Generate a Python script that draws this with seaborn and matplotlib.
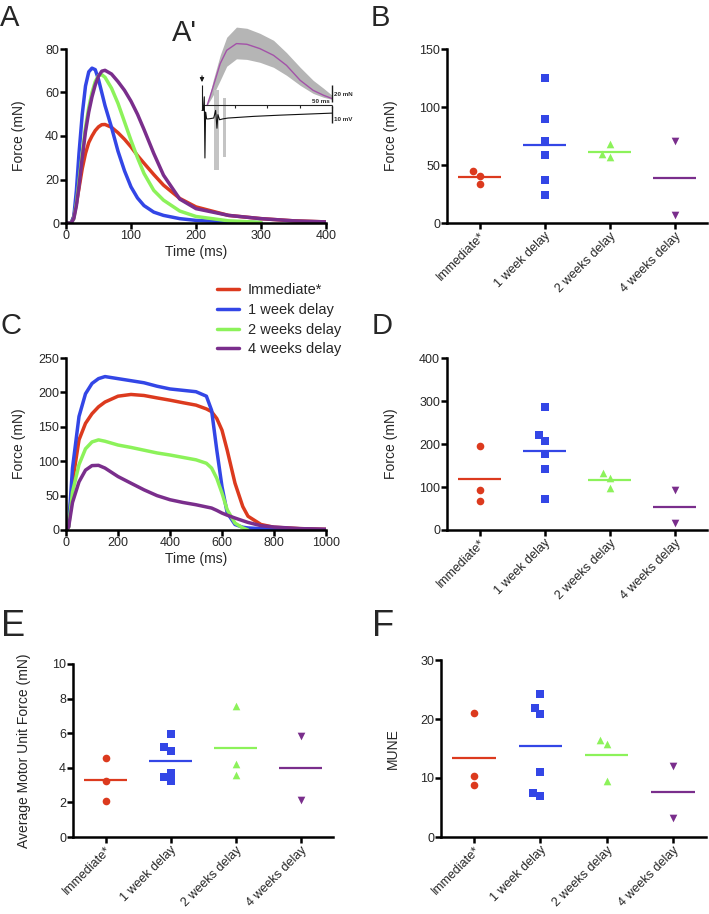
import numpy as np
import pandas as pd
import matplotlib
matplotlib.use('Agg')
import matplotlib.pyplot as plt
import seaborn as sns

sns.set_theme(style='ticks')
plt.rcParams['font.family'] = ['Liberation Sans', 'DejaVu Sans']

W, H = 709, 914

groups = ['Immediate*', '1 week delay', '2 weeks delay', '4 weeks delay']
colors = ['#dc3a1e', '#3346e6', '#8cf25a', '#7a2e8c']
markers = ['o', 's', '^', 'v']

# A: twitch force traces
t_a = [0, 8, 12, 16, 20, 25, 30, 35, 40, 45, 50, 55, 60, 70, 80, 90, 100,
       110, 120, 135, 150, 175, 200, 250, 300, 350, 400]
a_imm = [0, 0, 3, 9, 16, 25, 32, 37, 40, 42.5, 44.2, 45.2, 45.3, 44, 41.5, 38.5, 35,
         31, 27.5, 22.3, 17.4, 11.3, 7.4, 3.5, 2, 1, 0.5]
a_1w = [0, 0, 3, 15, 32, 50, 63, 69.5, 71.2, 70.5, 66, 60, 54, 44, 33, 24, 16.6,
        11.5, 8, 5, 3.5, 2, 1.2, 0.5, 0.2, np.nan, np.nan]
a_2w = [0, 0, 2, 9, 19, 32, 44, 53, 60, 65, 67.8, 68.2, 67, 62, 55, 46.5, 38,
        30, 22.8, 15, 10.5, 5.5, 3, 1, 0.3, np.nan, np.nan]
a_4w = [0, 0, 2, 8, 17, 30, 42, 51, 58, 63.5, 67.5, 69.8, 70.2, 68.5, 65, 61, 56,
        50, 43, 32, 22, 11, 6.6, 3.5, 2, 1, 0.5]

# A': mean twitch (+/- band) and EMG
ins_t = [8, 17, 28, 38, 53, 69, 89, 110, 130, 151, 171, 187, 200]
ins_mean = [0, 21.5, 49, 64.7, 72.6, 71.8, 66.7, 58.8, 47, 29.4, 17.6, 11.8, 7.9]
ins_hi = [0, 29, 59, 80, 92, 90.6, 84.7, 76.5, 62, 44.7, 29.4, 20, 11.8]
ins_lo = [0, 11.8, 29.4, 45.9, 54.7, 54, 50.6, 44.7, 35.3, 23.5, 14, 9.4, 7]
ins_ticks = [50, 100, 150, 200]
emg_t = [0, 2, 3.5, 4.5, 5.5, 7, 10, 18, 21, 23, 24.5, 27, 32, 40, 80, 120, 160, 200]
emg_mv = [4, 4, 12, -24, 3, -1, -1, -0.5, 4, -6.5, 1.5, -1.5, -1, -0.5, 0.5, 1.2, 1.8, 2.4]
emg_sd_t = [23, 34]
emg_sd_w = [7.7, 4.6]
emg_sd_top = [15.9, 11.2]
emg_sd_bot = [-31.2, -23.5]

# C: tetanic force traces
t_c = [0, 10, 25, 50, 75, 100, 125, 150, 200, 250, 300, 350, 400, 450, 500,
       540, 560, 580, 600, 620, 650, 680, 700, 750, 800, 900, 1000]
c_imm = [0, 5, 70, 131, 155, 169, 179, 186, 194.5, 197, 195.5, 192, 188.7, 185, 181.5,
         176, 172, 162, 145, 116, 68, 34, 20, 8, 4, 2, 1]
c_1w = [0, 5, 90, 165, 198, 213, 220, 223, 220, 217, 214, 209, 205, 203, 201,
        194.5, 174, 116, 63, 25, 8, 4, 3, 2, 1.5, 1, 0.5]
c_2w = [0, 4, 55, 95, 118, 128, 131, 129, 123.5, 120, 116, 112, 109, 105.5, 102,
        97, 90, 75, 53.6, 29.4, 10, 3, 0, np.nan, np.nan, np.nan, np.nan]
c_4w = [0, 4, 40, 70, 87, 93.6, 94, 90, 77.7, 68, 58.4, 50, 44, 40, 36.7,
        33.5, 31.9, 28.5, 24.6, 21.5, 17.4, 13.5, 11, 6.3, 4.3, 2, 1]

# B: twitch force per animal
b_vals = [[44.7, 40.7, 34.0], [124.9, 89.7, 71.0, 58.3, 36.9, 24.2],
          [67.8, 56.5, 59.4], [70.4, 7.2]]
# D: tetanic force per animal
d_vals = [[195.7, 92.8, 68.1], [287.0, 220.5, 208.0, 176.4, 141.6, 72.0],
          [133.0, 121.5, 96.7], [92.8, 15.5]]
# E: average motor unit force
e_vals = [[4.58, 3.21, 2.06], [5.96, 5.23, 5.0, 3.69, 3.21, 3.44],
          [7.6, 4.23, 3.56], [5.81, 2.15]]
# F: MUNE
f_vals = [[21.1, 10.4, 8.8], [24.2, 21.8, 20.9, 11.0, 7.4, 6.9],
          [16.5, 15.7, 9.5], [12.1, 3.3]]

fig = plt.figure(figsize=(W / 100, H / 100), dpi=100)


def px_axes(l, r, t, b):
    return fig.add_axes([l / W, 1 - b / H, (r - l) / W, (b - t) / H])


def style(ax):
    sns.despine(ax=ax)
    for s in ['left', 'bottom']:
        ax.spines[s].set_linewidth(1.8)
        ax.spines[s].set_color('black')
    ax.tick_params(width=1.8, length=4, labelsize=9, color='black', pad=1)


def traces(ax, t, series, xlim, ylim, xticks, yticks):
    rows = []
    for g, vals in zip(groups, series):
        for tt, v in zip(t, vals):
            rows.append((g, tt, v))
    df = pd.DataFrame(rows, columns=['group', 'time', 'force']).dropna()
    sns.lineplot(data=df, x='time', y='force', hue='group', hue_order=groups,
                 palette=colors, lw=2.5, estimator=None, ax=ax)
    ax.set_xlim(*xlim)
    ax.set_ylim(*ylim)
    ax.set_xticks(xticks)
    ax.set_yticks(yticks)
    ax.set_xlabel('Time (ms)', fontsize=10, labelpad=2)
    ax.set_ylabel('Force (mN)', fontsize=10)
    ax.yaxis.set_label_coords(-0.154, 0.5)
    style(ax)


def scatter(ax, vals, ylim, yticks, ylabel, lab_x):
    rows = [(g, v) for g, vs in zip(groups, vals) for v in vs]
    df = pd.DataFrame(rows, columns=['group', 'value'])
    for i, g in enumerate(groups):
        sns.swarmplot(data=df[df.group == g], x='group', y='value', order=groups,
                      marker=markers[i], color=colors[i], size=5.5, ax=ax)
    means = df.groupby('group')['value'].mean()
    for i, g in enumerate(groups):
        ax.hlines(means[g], i - 0.33, i + 0.33, color=colors[i], lw=1.6)
    ax.set_xlim(-0.5, 3.5)
    ax.set_ylim(*ylim)
    ax.set_yticks(yticks)
    ax.set_xlabel('')
    ax.set_ylabel(ylabel, fontsize=10)
    ax.yaxis.set_label_coords(lab_x, 0.5)
    ax.set_xticks(range(4))
    ax.set_xticklabels(groups, rotation=45, ha='right', rotation_mode='anchor', fontsize=9.5)
    style(ax)


# panel A
ax_a = px_axes(66, 326, 49, 223)
traces(ax_a, t_a, [a_imm, a_1w, a_2w, a_4w], (0, 400), (0, 80),
       [0, 100, 200, 300, 400], [0, 20, 40, 60, 80])
ax_a.get_legend().remove()

# inset A'
ins = px_axes(194.2, 346.3, 22, 175)
ins.set_xlim(-12, 222)
ins.set_ylim(-82, 98)
ins.axis('off')
ins.fill_between(ins_t, ins_lo, ins_hi, color='#b5b5b5', lw=0)
ins.plot(ins_t, ins_mean, color='#a352a8', lw=1)
ins.hlines(0, 0, 200, color='#222222', lw=0.8)
ins.vlines(ins_ticks, -3.5, 0, color='#222222', lw=0.8)
emg_base = -14
ins.bar(emg_sd_t, np.array(emg_sd_top) * 2 - np.array(emg_sd_bot) * 2,
        bottom=emg_base + np.array(emg_sd_bot) * 2, width=emg_sd_w, color='#c4c4c4', lw=0)
ins.plot(emg_t, emg_base + 2 * np.array(emg_mv), color='#111111', lw=0.8)
ins.vlines(200, 3.5, 23.5, color='k', lw=1)
ins.vlines(200, -21.2, -1.2, color='k', lw=1)
ins.vlines(0, -6, 24, color='k', lw=0.8)
ins.annotate('', xy=(0, 24), xytext=(0, 38),
             arrowprops=dict(arrowstyle='-|>', lw=0.8, color='k', mutation_scale=6))
ins.text(203, 13, '20 mN', fontsize=4.5, fontweight='bold', va='center')
ins.text(203, -16.5, '10 mV', fontsize=4.5, fontweight='bold', va='center')
ins.text(197, 1.5, '50 ms', fontsize=4.5, fontweight='bold', ha='right', va='bottom')

# panel B
ax_b = px_axes(447, 707, 49, 223)
scatter(ax_b, b_vals, (0, 150), [0, 50, 100, 150], 'Force (mN)', -0.19)

# panel C
ax_c = px_axes(66, 326, 358, 530)
traces(ax_c, t_c, [c_imm, c_1w, c_2w, c_4w], (0, 1000), (0, 250),
       [0, 200, 400, 600, 800, 1000], [0, 50, 100, 150, 200, 250])
handles, labels = ax_c.get_legend_handles_labels()
ax_c.get_legend().remove()
fig.legend(handles, labels, loc='upper left', bbox_to_anchor=(217 / W, 1 - 283 / H),
           frameon=False, fontsize=10.5, handlelength=1.5, handletextpad=0.6,
           labelspacing=0.4, borderpad=0, borderaxespad=0)

# panel D
ax_d = px_axes(447, 707, 358, 530)
scatter(ax_d, d_vals, (0, 400), [0, 100, 200, 300, 400], 'Force (mN)', -0.19)

# panel E
ax_e = px_axes(73, 333, 664, 837)
scatter(ax_e, e_vals, (0, 10), [0, 2, 4, 6, 8, 10], 'Average Motor Unit Force (mN)', -0.16)

# panel F
ax_f = px_axes(441, 706, 660, 837)
scatter(ax_f, f_vals, (0, 30), [0, 10, 20, 30], 'MUNE', -0.155)

# panel letters
for txt, x, y, fs in [('A', 0, 4, 21), ("A'", 172, 19, 21), ('B', 371, 4, 21),
                      ('C', 0, 312, 21), ('D', 372, 312, 21),
                      ('E', 1, 609, 26), ('F', 372, 609, 26)]:
    fig.text(x / W, 1 - y / H, txt, fontsize=fs, va='top', ha='left')

fig.savefig('out.png', dpi=100)
